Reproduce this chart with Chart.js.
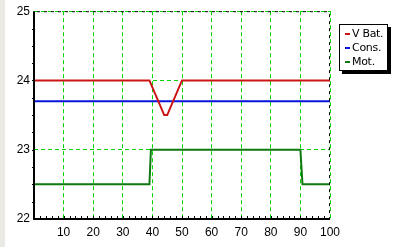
<!DOCTYPE html>
<html>
<head>
<meta charset="utf-8">
<script src="https://cdn.jsdelivr.net/npm/chart.js@4/dist/chart.umd.min.js"></script>
<style>
  body { margin: 0; background: #ebe9e3; }
  #wrap { position: absolute; left: 5px; top: 0; width: 394px; height: 247px; background: #fff; }
  #legend {
    position: absolute; left: 334px; top: 24px; width: 47px; height: 43px;
    background: #fff; border: 1px solid #000; box-shadow: 3px 3px 0 #000;
    font: 11px "DejaVu Sans", sans-serif; color: #000;
    padding-top: 2px; box-sizing: content-box;
  }
  #legend div { height: 14px; line-height: 14px; white-space: nowrap; padding-left: 5px; letter-spacing: -0.3px; }
  #legend span { display: inline-block; width: 5px; height: 2px; vertical-align: middle; margin-right: 2px; }
</style>
</head>
<body>
<div id="wrap">
  <canvas id="chart" width="394" height="247"></canvas>
  <div id="legend"></div>
</div>
<script>
const seriesNames = ['V Bat.', 'Cons.', 'Mot.'];
const seriesColors = ['#cc1414', '#0a14d8', '#0f780f'];

const batX = [0, 39, 44, 45, 50, 100];
const batY = [24, 24, 23.5, 23.5, 24, 24];
const consX = [0, 100];
const consY = [23.7, 23.7];
const motX = [0, 39, 39.5, 90, 90.7, 100];
const motY = [22.5, 22.5, 23, 23, 22.5, 22.5];

const xTicks = [10, 20, 30, 40, 50, 60, 70, 80, 90, 100];
const yTicks = [22, 23, 24, 25];

const toPoints = (xs, ys) => xs.map((x, i) => ({ x: x, y: ys[i] }));
const seriesData = [toPoints(batX, batY), toPoints(consX, consY), toPoints(motX, motY)];

const gridGreen = '#00d200';

// axis lines, small ticks and the dashed frame on top / right
const framePlugin = {
  id: 'frame',
  afterDraw(chart) {
    const ctx = chart.ctx;
    const a = chart.chartArea;
    const xs = chart.scales.x, ys = chart.scales.y;
    ctx.save();
    ctx.strokeStyle = '#000';
    ctx.lineWidth = 2;
    ctx.beginPath();
    ctx.moveTo(a.left, a.top);
    ctx.lineTo(a.left, a.bottom);
    ctx.lineTo(a.right, a.bottom);
    ctx.stroke();
    ctx.lineWidth = 1;
    ctx.beginPath();
    for (let v = 2; v < 100; v += 2) {
      const px = Math.round(xs.getPixelForValue(v)) + 0.5;
      ctx.moveTo(px, a.bottom - 3);
      ctx.lineTo(px, a.bottom);
    }
    for (let v = 22.25; v < 25; v += 0.25) {
      const py = Math.round(ys.getPixelForValue(v)) + 0.5;
      ctx.moveTo(a.left - 2, py);
      ctx.lineTo(a.left + 1, py);
    }
    ctx.stroke();
    ctx.setLineDash([3, 4]);
    ctx.lineDashOffset = 4;
    ctx.beginPath();
    ctx.moveTo(a.left, a.top + 0.5);
    ctx.lineTo(a.right, a.top + 0.5);
    ctx.moveTo(a.right - 0.5, a.top);
    ctx.lineTo(a.right - 0.5, a.bottom);
    ctx.stroke();
    ctx.restore();
  }
};

const chart = new Chart(document.getElementById('chart'), {
  type: 'line',
  data: {
    datasets: seriesNames.map((name, i) => ({
      label: name,
      data: seriesData[i],
      borderColor: seriesColors[i],
      backgroundColor: seriesColors[i],
      borderWidth: 2,
      pointRadius: 0,
      tension: 0
    }))
  },
  options: {
    responsive: false,
    animation: false,
    layout: { padding: { top: 10, right: 69, left: 0, bottom: 0 } },
    plugins: { legend: { display: false }, tooltip: { enabled: false } },
    scales: {
      x: {
        type: 'linear', min: 0, max: 100,
        afterFit: s => { s.height = 28; },
        afterBuildTicks: s => { s.ticks = xTicks.map(v => ({ value: v })); },
        ticks: { color: '#000', padding: 6, font: { family: 'Liberation Sans', size: 12 } },
        grid: { color: gridGreen, lineWidth: 1, drawTicks: false },
        border: { display: false, dash: [4, 3] }
      },
      y: {
        min: 22, max: 25,
        afterFit: s => { s.width = 29; },
        afterBuildTicks: s => { s.ticks = yTicks.map(v => ({ value: v })); },
        ticks: { color: '#000', padding: 4, font: { family: 'Liberation Sans', size: 12 } },
        grid: {
          color: c => c.tick && c.tick.value === 22 ? 'rgba(0,0,0,0)' : gridGreen,
          lineWidth: 1, drawTicks: false
        },
        border: { display: false, dash: [4, 3] }
      }
    }
  },
  plugins: [framePlugin]
});

const legend = document.getElementById('legend');
chart.data.datasets.forEach(ds => {
  const row = document.createElement('div');
  const mark = document.createElement('span');
  mark.style.background = ds.borderColor;
  row.appendChild(mark);
  row.appendChild(document.createTextNode(ds.label));
  legend.appendChild(row);
});
</script>
</body>
</html>
